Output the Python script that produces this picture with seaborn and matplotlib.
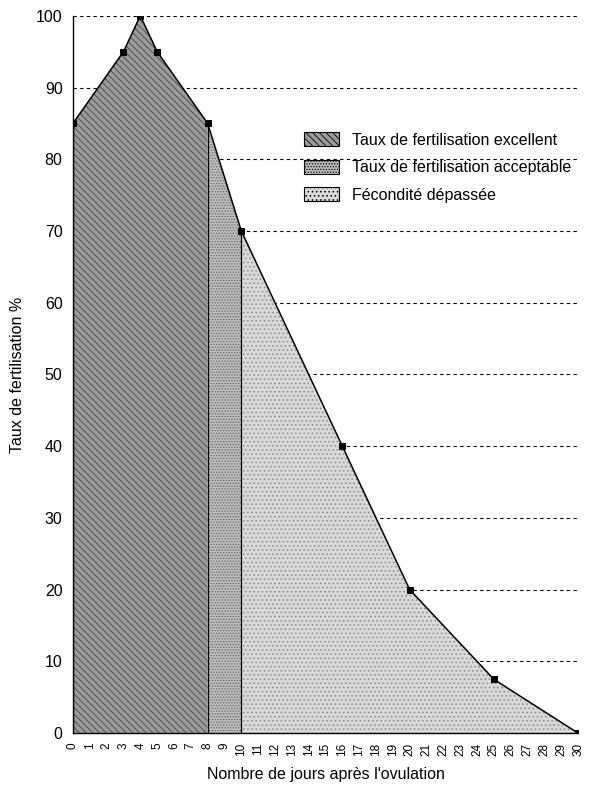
import numpy as np
import matplotlib
matplotlib.use("Agg")
import matplotlib.pyplot as plt
from matplotlib.patches import Patch
import seaborn as sns
import pandas as pd

# data
days = [0, 3, 4, 5, 8, 10, 16, 20, 25, 30]
taux = [85, 95, 100, 95, 85, 70, 40, 20, 7.5, 0]
zones = ["Taux de fertilisation excellent",
         "Taux de fertilisation acceptable",
         "Fécondité dépassée"]
zone_bounds = [(0, 8), (8, 10), (10, 30)]
y_ticks = list(range(0, 101, 10))
x_ticks = list(range(0, 31))

sns.set_style("white")
plt.rcParams['font.family'] = ['Liberation Sans', 'DejaVu Sans']
plt.rcParams['hatch.linewidth'] = 0.6
plt.rcParams['text.color'] = 'black'
plt.rcParams['axes.labelcolor'] = 'black'
plt.rcParams['xtick.color'] = 'black'
plt.rcParams['ytick.color'] = 'black'

df = pd.DataFrame({"jour": days, "taux": taux})

fig = plt.figure(figsize=(6.13, 7.9), dpi=100)
ax = fig.add_axes([0.119, 0.072, 0.824, 0.908])

styles = [
    dict(facecolor="#9c9c9c", hatch="\\\\\\\\\\", hcol="#444444"),
    dict(facecolor="#bdbdbd", hatch="......", hcol="#666666"),
    dict(facecolor="#d9d9d9", hatch="....", hcol="#888888"),
]

x = np.array(days, dtype=float)
y = np.array(taux, dtype=float)
for (lo, hi), st in zip(zone_bounds, styles):
    m = (x >= lo) & (x <= hi)
    ax.fill_between(x[m], 0, y[m], facecolor=st["facecolor"],
                    edgecolor=st["hcol"], hatch=st["hatch"], linewidth=0)
    # boundary lines
    ax.plot([lo, lo], [0, np.interp(lo, x, y)], color="black", lw=0.9)

sns.lineplot(data=df, x="jour", y="taux", ax=ax, color="black", lw=1.1,
             marker="s", markersize=4, markeredgecolor="black")

for v in y_ticks[1:]:
    ax.axhline(v, color="black", ls=(0, (3, 3)), lw=0.8, zorder=0.5)

ax.set_xlim(0, 30)
ax.set_ylim(0, 100)
ax.set_xticks(x_ticks)
ax.set_xticklabels([str(t) for t in x_ticks], rotation=90, fontsize=8.5)
ax.set_yticks(y_ticks)
ax.set_yticklabels([str(t) for t in y_ticks], fontsize=11.5)
ax.tick_params(axis="x", direction="inout", length=4, width=0.8, pad=5)
ax.tick_params(axis="y", direction="out", length=4, width=0.8)
ax.grid(False)
for s in ["top", "right"]:
    ax.spines[s].set_visible(False)
for s in ["left", "bottom"]:
    ax.spines[s].set_color("black")
    ax.spines[s].set_linewidth(1.0)

ax.set_xlabel("Nombre de jours après l'ovulation", fontsize=11.5, labelpad=8)
ax.set_ylabel("Taux de fertilisation %", fontsize=11.5, labelpad=8)

handles = [Patch(facecolor=st["facecolor"], edgecolor="black",
                 hatch=st["hatch"], linewidth=0.8) for st in styles]
leg = ax.legend(handles, zones, loc="upper left",
                bbox_to_anchor=(0.458, 0.838), frameon=False, fontsize=11.5,
                handlelength=2.2, handleheight=1.0, handletextpad=0.8,
                labelspacing=0.75, borderpad=0.0, borderaxespad=0.0)

plt.savefig("out.png", dpi=100)
